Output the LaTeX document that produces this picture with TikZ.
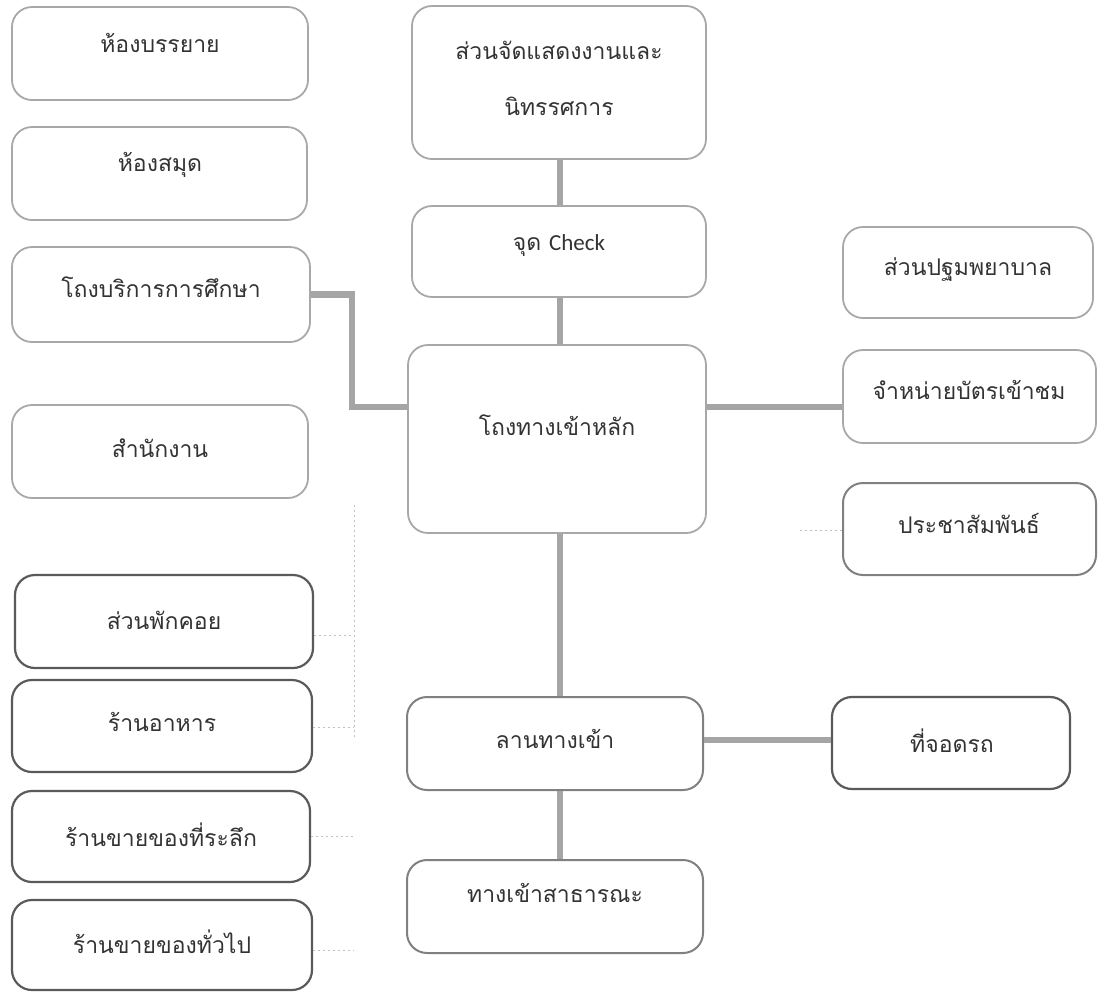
\documentclass[tikz,border=0pt]{standalone}
\usepackage{fontspec}
\newfontfamily\thaifont[Script=Thai]{Loma}
\newfontfamily\latinfont{Carlito}
\definecolor{boxgray}{HTML}{A8A8A8}
\definecolor{boxmid}{HTML}{808080}
\definecolor{boxdark}{HTML}{5A5A5A}
\definecolor{linkgray}{HTML}{A5A5A5}
\definecolor{txtgray}{HTML}{333333}
\tikzset{
  box/.style={draw=boxgray, line width=1.8pt, rounded corners=20pt, inner sep=0pt},
  boxm/.style={draw=boxmid, line width=2pt, rounded corners=20pt, inner sep=0pt},
  boxd/.style={draw=boxdark, line width=2.2pt, rounded corners=20pt, inner sep=0pt},
  txt/.style={font=\thaifont\fontsize{23}{27}\selectfont, text=txtgray, inner sep=0pt},
  link/.style={draw=linkgray, line width=6.5pt},
  faint/.style={draw=black!25, line width=0.6pt, dash pattern=on 2pt off 3pt}
}
% name, x1, y1, x2, y2, style
\newcommand\mybox[6]{%
  \node[#6, minimum width={(#4)-(#2)}, minimum height={(#5)-(#3)}] (#1) at ({((#2)+(#4))/2},{((#3)+(#5))/2}) {};}
\begin{document}
\begin{tikzpicture}[x=1pt,y=-1pt]
\useasboundingbox (0,0) rectangle (1098,994);
% left column
\mybox{b1}{12}{7}{308}{100}{box}
\mybox{b2}{12}{127}{307}{220}{box}
\mybox{b3}{12}{247}{310}{342}{box}
\mybox{b4}{12}{405}{308}{498}{box}
\mybox{b5}{15}{575}{313}{668}{boxd}
\mybox{b6}{12}{680}{312}{772}{boxd}
\mybox{b7}{12}{791}{310}{882}{boxd}
\mybox{b8}{12}{900}{312}{990}{boxd}
% centre column
\mybox{c1}{412}{6}{706}{159}{box}
\mybox{c2}{412}{206}{706}{297}{box}
\mybox{c3}{408}{345}{706}{533}{box}
\mybox{c4}{407}{697}{703}{790}{boxm}
\mybox{c5}{407}{860}{703}{953}{boxm}
\mybox{pk}{832}{697}{1070}{789}{boxd}
% right column
\mybox{r1}{843}{227}{1093}{318}{box}
\mybox{r2}{843}{350}{1096}{443}{box}
\mybox{r3}{843}{483}{1096}{575}{boxm}
% texts
\node[txt] (t1) at (160,43) {ห้องบรรยาย};
\node[txt] (t2) at (160,165) {ห้องสมุด};
\node[txt] (t3) at (161,287) {โถงบริการการศึกษา};
\node[txt] (t4) at (160,448) {สำนักงาน};
\node[txt] (t5) at (164,620) {ส่วนพักคอย};
\node[txt] (t6) at (162,722) {ร้านอาหาร};
\node[txt] (t7) at (161,835) {ร้านขายของที่ระลึก};
\node[txt] (t8) at (162,942) {ร้านขายของทั่วไป};
\node[txt] (tc1a) at (559,50) {ส่วนจัดแสดงงานและ};
\node[txt] (tc1b) at (559,106) {นิทรรศการ};
\node[txt] (tc2) at (559,246) {จุด {\latinfont Check}};
\node[txt] (tc3) at (557,425) {โถงทางเข้าหลัก};
\node[txt] (tc4) at (555,739) {ลานทางเข้า};
\node[txt] (tc5) at (555,893) {ทางเข้าสาธารณะ};
\node[txt] (tpk) at (952,741) {ที่จอดรถ};
\node[txt] (tr1) at (968,270) {ส่วนปฐมพยาบาล};
\node[txt] (tr2) at (969,390) {จำหน่ายบัตรเข้าชม};
\node[txt] (tr3) at (969,523) {ประชาสัมพันธ์};
% connectors
\coordinate (j1) at (352,407);
\coordinate (cx) at (560,0);
\draw[link] (c1.south -| cx) -- (c2.north -| cx);
\draw[link] (c2.south -| cx) -- (c3.north -| cx);
\draw[link] (b3.east) -| (j1) -- (j1 -| c3.west);
\draw[link] (c3.east |- j1) -- (r2.west |- j1);
\draw[link] (c3.south -| cx) -- (c4.north -| cx);
\draw[link] (c4.east |- 0,740) -- (pk.west |- 0,740);
\draw[link] (c4.south -| cx) -- (c5.north -| cx);
% faint dotted lines
\coordinate (v1) at (354,505);
\coordinate (v2) at (354,738);
\draw[faint] (v1) -- (v2);
\draw[faint] (b5.east |- 0,635) -- (v1 |- 0,635);
\draw[faint] (b6.east |- 0,727) -- (v1 |- 0,727);
\draw[faint] (b7.east |- 0,836) -- (v1 |- 0,836);
\draw[faint] (b8.east |- 0,950) -- (v1 |- 0,950);
\coordinate (v3) at (800,530);
\draw[faint] (v3) -- (v3 -| r3.west);
\end{tikzpicture}
\end{document}
